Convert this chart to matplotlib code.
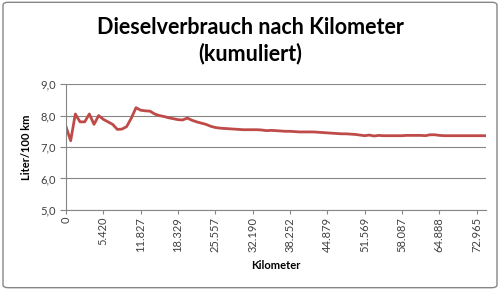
import matplotlib
matplotlib.use("Agg")
import matplotlib.pyplot as plt
from matplotlib.patches import FancyBboxPatch

plt.rcParams["font.family"] = ["Lato", "DejaVu Sans"]

# cumulative consumption (l/100 km), one value per refuelling entry
verbrauch = [
    7.65, 7.20, 8.05, 7.80, 7.80, 8.05, 7.72, 8.00, 7.88, 7.80,
    7.72, 7.56, 7.57, 7.65, 7.92, 8.25, 8.17, 8.15, 8.14, 8.05,
    8.00, 7.97, 7.93, 7.90, 7.87, 7.86, 7.92, 7.85, 7.80, 7.76,
    7.72, 7.66, 7.62, 7.60, 7.59, 7.58, 7.57, 7.56, 7.55, 7.55,
    7.55, 7.55, 7.54, 7.52, 7.53, 7.52, 7.51, 7.50, 7.50, 7.49,
    7.48, 7.48, 7.48, 7.48, 7.47, 7.46, 7.45, 7.44, 7.43, 7.42,
    7.42, 7.41, 7.40, 7.38, 7.36, 7.38, 7.35, 7.37, 7.36, 7.36,
    7.36, 7.36, 7.36, 7.37, 7.37, 7.37, 7.37, 7.36, 7.39, 7.39,
    7.37, 7.36, 7.36, 7.36, 7.36, 7.36, 7.36, 7.36, 7.36, 7.36,
    7.36,
]
# km readings shown on the category axis (every 8th entry)
km_labels = ["0", "5.420", "11.827", "18.329", "25.557", "32.190",
             "38.252", "44.879", "51.569", "58.087", "64.888", "72.965"]
label_step = 8
y_ticks = [5.0, 6.0, 7.0, 8.0, 9.0]

grey = "#868686"
text_col = "#404040"

fig = plt.figure(figsize=(5, 2.9), dpi=100)
ax = fig.add_axes([0.132, 0.276, 0.840, 0.434])

x = list(range(len(verbrauch)))
ax.plot(x, verbrauch, color="#BE4B48", lw=2.0, solid_joinstyle="round")

ax.set_xlim(0, len(verbrauch) - 1)
ax.set_ylim(5.0, 9.0)
ax.set_yticks(y_ticks)
ax.set_yticklabels([f"{v:.1f}".replace(".", ",") for v in y_ticks])
ax.set_xticks([i * label_step for i in range(len(km_labels))])
ax.set_xticklabels(km_labels, rotation=90)
ax.tick_params(axis="both", labelsize=8, colors=grey, labelcolor=text_col,
               length=4, width=0.8)
ax.tick_params(axis="x", length=3, pad=2)

ax.grid(axis="y", color=grey, lw=0.8)
ax.set_axisbelow(True)
for side in ("top", "right"):
    ax.spines[side].set_visible(False)
for side in ("left", "bottom"):
    ax.spines[side].set_color(grey)
    ax.spines[side].set_linewidth(0.8)

ax.set_ylabel("Liter/100 km", fontsize=8, fontweight="bold", color="black",
              labelpad=6)
ax.set_xlabel("Kilometer", fontsize=8, fontweight="bold", color="black",
              labelpad=6)

fig.text(0.5, 0.905, "Dieselverbrauch nach Kilometer", ha="center",
         va="center", fontsize=15.5, fontweight="bold")
fig.text(0.5, 0.815, "(kumuliert)", ha="center", va="center",
         fontsize=15.5, fontweight="bold")

border = FancyBboxPatch((0.006, 0.008), 0.988, 0.984,
                        boxstyle="round,pad=0,rounding_size=0.01",
                        transform=fig.transFigure, fill=False,
                        edgecolor=grey, lw=1.0)
fig.patches.append(border)

fig.savefig("out.png", dpi=100)
